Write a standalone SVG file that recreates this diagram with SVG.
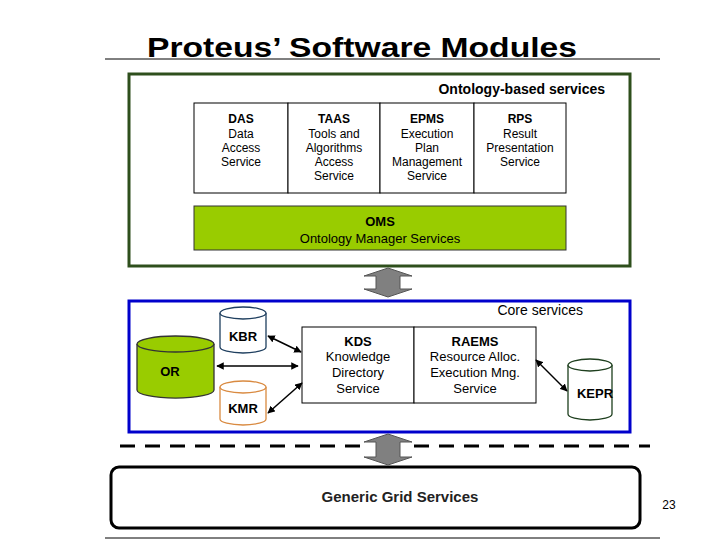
<svg xmlns="http://www.w3.org/2000/svg" width="720" height="540" viewBox="0 0 720 540">
<defs>
<marker id="ah" viewBox="0 0 10 10" refX="9" refY="5" markerWidth="5" markerHeight="5" orient="auto-start-reverse"><path d="M0,0 L10,5 L0,10 z" fill="#000"/></marker>
<style>
text{font-family:"Liberation Sans",Arial,sans-serif;fill:#000}
.b{font-weight:bold}
.s{font-size:12px;text-anchor:middle}
.m{font-size:13px}
.cell{fill:#fff;stroke:#000;stroke-width:1}
.con{stroke:#000;stroke-width:1.5;fill:none;marker-start:url(#ah);marker-end:url(#ah)}
.garrow{fill:#808080;stroke:#555;stroke-width:1}
</style>
</defs>
<rect width="720" height="540" fill="#fff"/>
<text x="362" y="57" class="b" style="font-size:28px" text-anchor="middle" textLength="430" lengthAdjust="spacingAndGlyphs">Proteus’ Software Modules</text>
<line x1="105" y1="59" x2="660" y2="59" stroke="#000" stroke-width="1"/>
<line x1="105" y1="538" x2="660" y2="538" stroke="#000" stroke-width="1"/>

<g id="ontology">
<rect x="129" y="74" width="501" height="192" fill="#fff" stroke="#2e4f1c" stroke-width="3"/>
<text x="605" y="94" class="b" style="font-size:14px" text-anchor="end">Ontology-based services</text>
</g>
<g id="das"><rect x="194" y="103" width="94" height="90" class="cell"/>
<text x="241" y="123" class="s b">DAS</text><text x="241" y="138" class="s">Data</text><text x="241" y="152" class="s">Access</text><text x="241" y="166" class="s">Service</text></g>
<g id="taas"><rect x="288" y="103" width="92" height="90" class="cell"/>
<text x="334" y="123" class="s b">TAAS</text><text x="334" y="138" class="s">Tools and</text><text x="334" y="152" class="s">Algorithms</text><text x="334" y="166" class="s">Access</text><text x="334" y="180" class="s">Service</text></g>
<g id="epms"><rect x="380" y="103" width="94" height="90" class="cell"/>
<text x="427" y="123" class="s b">EPMS</text><text x="427" y="138" class="s">Execution</text><text x="427" y="152" class="s">Plan</text><text x="427" y="166" class="s">Management</text><text x="427" y="180" class="s">Service</text></g>
<g id="rps"><rect x="474" y="103" width="92" height="90" class="cell"/>
<text x="520" y="123" class="s b">RPS</text><text x="520" y="138" class="s">Result</text><text x="520" y="152" class="s">Presentation</text><text x="520" y="166" class="s">Service</text></g>
<g id="oms"><rect x="194" y="206" width="372" height="44" fill="#99cc00" stroke="#333" stroke-width="1"/>
<text x="380" y="226" class="s b m">OMS</text><text x="380" y="243" class="s m">Ontology Manager Services</text></g>

<g id="core">
<rect x="129" y="301" width="501" height="131" fill="#fff" stroke="#0000cc" stroke-width="3"/>
<text x="583" y="315" style="font-size:14px" text-anchor="end">Core services</text>
</g>
<g id="kbr"><path d="M220,313 V347 A23,6 0 0 0 266,347 V313" fill="#fff" stroke="#1f3f5f" stroke-width="1.3"/><ellipse cx="243" cy="313" rx="23" ry="6" fill="#fff" stroke="#1f3f5f" stroke-width="1.3"/>
<text x="243" y="341" class="s b m">KBR</text></g>
<g id="or"><path d="M137,344 V390 A38,8 0 0 0 214,390 V344" fill="#99cc00" stroke="#333" stroke-width="1.3"/><ellipse cx="175.5" cy="344" rx="38.5" ry="8" fill="#99cc00" stroke="#333" stroke-width="1.3"/>
<text x="170" y="376" class="s b m">OR</text></g>
<g id="kmr"><path d="M220,387 V419 A23,6 0 0 0 266,419 V387" fill="#fff" stroke="#d98a40" stroke-width="1.3"/><ellipse cx="243" cy="387" rx="23" ry="6" fill="#fff" stroke="#d98a40" stroke-width="1.3"/>
<text x="243" y="413" class="s b m">KMR</text></g>
<g id="kepr"><path d="M568,365 V414 A22,6 0 0 0 612,414 V365" fill="#fff" stroke="#1e3f1e" stroke-width="1.3"/><ellipse cx="590" cy="365" rx="22" ry="6" fill="#fff" stroke="#1e3f1e" stroke-width="1.3"/>
<text x="595" y="398" class="s b m">KEPR</text></g>
<g id="kds"><rect x="302" y="327" width="112" height="76" class="cell"/>
<text x="358" y="346" class="s b m">KDS</text><text x="358" y="361" class="s m">Knowledge</text><text x="358" y="377" class="s m">Directory</text><text x="358" y="393" class="s m">Service</text></g>
<g id="raems"><rect x="414" y="327" width="122" height="76" class="cell"/>
<text x="475" y="346" class="s b m">RAEMS</text><text x="475" y="361" class="s m">Resource Alloc.</text><text x="475" y="377" class="s m">Execution Mng.</text><text x="475" y="393" class="s m">Service</text></g>

<g id="grid"><rect x="111" y="467" width="529" height="61" rx="8" fill="#fff" stroke="#000" stroke-width="3"/>
<text x="400" y="502" class="s b" style="font-size:15px;fill:#222">Generic Grid Services</text></g>
<text x="669" y="509" style="font-size:12px" text-anchor="middle">23</text>

<g id="connectors">
<path class="garrow" d="M388,268 L412,276 L400,276 L400,289 L412,289 L388,297 L364,289 L376,289 L376,276 L364,276 Z"/>
<path class="garrow" d="M388,434 L412,442 L400,442 L400,457 L412,457 L388,465 L364,457 L376,457 L376,442 L364,442 Z"/>
<line x1="120" y1="446" x2="362" y2="446" stroke="#000" stroke-width="3" stroke-dasharray="15,10"/>
<line x1="414" y1="446" x2="650" y2="446" stroke="#000" stroke-width="3" stroke-dasharray="15,10"/>
<line class="con" x1="268" y1="336" x2="301" y2="352"/>
<line class="con" x1="217" y1="366" x2="298" y2="366"/>
<line class="con" x1="268" y1="413" x2="302" y2="383"/>
<line class="con" x1="536" y1="360" x2="567" y2="391"/>
</g>
</svg>
